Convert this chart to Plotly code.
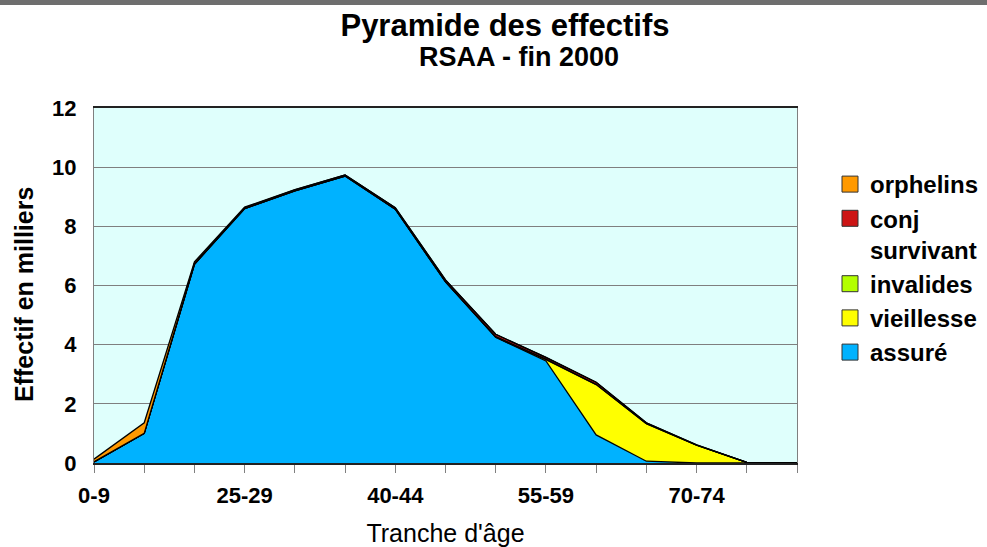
"""Pyramide des effectifs : aires empilées par tranche d'âge"""

import plotly.graph_objects as go

tranches = ["0-9", "10-19", "20-24", "25-29", "30-34", "35-39", "40-44", "45-49",
            "50-54", "55-59", "60-64", "65-69", "70-74", "75-79", "80+"]

# effectifs en milliers
assure = [0.04, 1.0, 6.72, 8.6, 9.2, 9.7, 8.58, 6.12, 4.25, 3.45, 0.95, 0.06, 0.0, 0.0, 0.0]
vieillesse = [0, 0, 0, 0, 0, 0, 0, 0, 0.0, 0.04, 1.70, 1.27, 0.60, 0.02, 0]
invalides = [0, 0, 0, 0, 0, 0, 0, 0.01, 0.02, 0.02, 0.01, 0, 0, 0, 0]
conj_survivant = [0, 0, 0.03, 0.03, 0.03, 0.04, 0.05, 0.06, 0.08, 0.06, 0.07, 0.03, 0.01, 0, 0]
orphelins = [0.09, 0.36, 0.05, 0.02, 0.01, 0, 0, 0, 0, 0, 0, 0, 0, 0, 0]

FONT = "Liberation Sans, Arial, sans-serif"
W, H = 987, 547
L, R, T, B = 94, 190, 108, 84
PW, PH = W - L - R, H - T - B


def px(x):
    return (x - L) / PW


def py(y):
    return (H - B - y) / PH


series = [
    ("assuré", assure, "#00B2FF"),
    ("vieillesse", vieillesse, "#FFFF00"),
    ("invalides", invalides, "#B3FF00"),
    ("conj<br>survivant", conj_survivant, "#CC1414"),
    ("orphelins", orphelins, "#FF9900"),
]

fig = go.Figure()
for name, vals, color in series:
    fig.add_trace(go.Scatter(
        x=tranches, y=vals, mode="lines", stackgroup="one",
        line=dict(color="black", width=1.3), fillcolor=color,
        name=name, showlegend=False, hoverinfo="x+y+name",
    ))

# carrés de légende
for name, vals, color in reversed(series):
    fig.add_trace(go.Scatter(
        x=[None], y=[None], mode="markers", name=name,
        marker=dict(symbol="square", size=22, color=color,
                    line=dict(color="#333333", width=1)),
    ))

fig.update_layout(
    width=W, height=H,
    margin=dict(l=L, r=R, t=T, b=B, autoexpand=False),
    paper_bgcolor="white", plot_bgcolor="#DFFFFC",
    font=dict(family=FONT, color="black"),
    title=dict(text="Pyramide des effectifs", x=505 / W, xanchor="center",
               y=1 - 25 / H, yanchor="middle",
               font=dict(size=31, weight="bold")),
    showlegend=True,
    legend=dict(x=px(830), xanchor="left", y=py(162), yanchor="top",
                font=dict(size=24, weight="bold"), traceorder="normal",
                valign="top", bgcolor="rgba(0,0,0,0)", itemclick=False,
                tracegroupgap=0),
    annotations=[
        dict(text="RSAA - fin 2000", xref="paper", yref="paper",
             x=px(519), y=py(57), showarrow=False,
             xanchor="center", yanchor="middle",
             font=dict(size=27, weight="bold")),
        dict(text="Effectif en milliers", xref="paper", yref="paper",
             x=px(24), y=py(295), showarrow=False, textangle=-90,
             xanchor="center", yanchor="middle",
             font=dict(size=25, weight="bold")),
    ],
    shapes=[dict(type="rect", xref="paper", yref="paper", x0=-0.2, x1=1.4,
                 y0=py(5), y1=py(-5), fillcolor="#6E6E6E", line_width=0,
                 layer="above")],
)

fig.update_xaxes(
    type="category", categoryorder="array", categoryarray=tranches,
    range=[0, len(tranches) - 1], automargin=False,
    tickvals=tranches,
    ticktext=[t if i % 3 == 0 else "" for i, t in enumerate(tranches)],
    ticks="outside", ticklen=8, tickcolor="#808080", tickwidth=1,
    ticklabelstandoff=4,
    tickfont=dict(size=22, weight="bold"),
    showgrid=False, showline=True, linecolor="#222222", linewidth=2, mirror=True,
    title=dict(text="Tranche d'âge", font=dict(size=25), standoff=18),
)
fig.update_yaxes(
    range=[0, 12], dtick=2, tick0=0, automargin=False,
    tickfont=dict(size=22, weight="bold"), ticklabelstandoff=12,
    showgrid=True, gridcolor="#7F7F7F", gridwidth=1,
    showline=True, linecolor="#7F7F7F", linewidth=1, mirror=True,
    ticks="", zeroline=False,
)

# la page ajoute une marge de 8px au body : on la retire
fig.write_html("out.html", config={"displayModeBar": False},
               post_script="document.body.style.margin = '0';")
